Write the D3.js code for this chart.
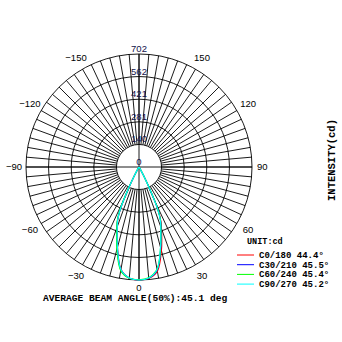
<!DOCTYPE html>
<html><head><meta charset="utf-8">
<script src="https://cdn.jsdelivr.net/npm/d3@7"></script>
<style>body{margin:0;background:#fff}svg{display:block}</style>
</head><body>
<svg id="c" width="342" height="342"></svg>
<script>
const ringTicks = [0, 140, 281, 421, 562, 702];
const angleTicks = [-150, -120, -90, -60, -30, 0, 30, 60, 90, 120, 150];
const angles = [0, 5, 10, 15, 18, 20, 22, 24, 26, 28, 30, 35, 40, 90];
const seriesNames = ["C0/180", "C30/210", "C60/240", "C90/270"];
const beamAngles = ["44.4°", "45.5°", "45.4°", "45.2°"];
const seriesColors = ["#ff0000", "#0000ff", "#00ff00", "#00ffff"];
const c0Right   = [702, 696, 658, 538, 458, 408, 362, 292, 162, 66, 20, 5, 0, 0];
const c0Left    = [702, 692, 645, 515, 438, 395, 352, 275, 150, 60, 20, 5, 0, 0];
const c30Right  = [702, 694, 650, 522, 444, 400, 357, 283, 158, 62, 20, 5, 0, 0];
const c30Left   = [702, 693, 648, 520, 442, 398, 356, 282, 156, 62, 20, 5, 0, 0];
const c60Right  = [700, 690, 645, 518, 440, 397, 356, 285, 160, 65, 22, 5, 0, 0];
const c60Left   = [700, 694, 654, 530, 450, 404, 361, 290, 164, 66, 22, 5, 0, 0];
const c90Right  = [702, 692, 646, 516, 438, 394, 352, 280, 155, 60, 20, 5, 0, 0];
const c90Left   = [702, 692, 647, 517, 439, 395, 353, 280, 155, 60, 20, 5, 0, 0];
const series = [[c0Right, c0Left], [c30Right, c30Left], [c60Right, c60Left], [c90Right, c90Left]];

const svg = d3.select("#c");
const cx = 139, cy = 167, R = 113;
const r = d3.scaleLinear().domain([0, 702]).range([0, R]);
const g = svg.append("g").attr("transform", `translate(${cx},${cy})`);
const rad = d => d * Math.PI / 180;

const spokes = d3.range(0, 360, 5);
g.selectAll("line.spoke").data(spokes).join("line")
  .attr("x1", d => r(ringTicks[1]) * Math.sin(rad(d)))
  .attr("y1", d => r(ringTicks[1]) * Math.cos(rad(d)))
  .attr("x2", d => R * Math.sin(rad(d)))
  .attr("y2", d => R * Math.cos(rad(d)))
  .attr("stroke", "#000").attr("stroke-width", 0.9);
g.append("line").attr("x1", -R).attr("x2", R).attr("y1", 0).attr("y2", 0).attr("stroke", "#000").attr("stroke-width", 0.9);
g.append("line").attr("x1", 0).attr("x2", 0).attr("y1", -R).attr("y2", R).attr("stroke", "#000").attr("stroke-width", 0.9);
g.selectAll("circle.ring").data(ringTicks.slice(1)).join("circle")
  .attr("r", d => r(d)).attr("fill", "none").attr("stroke", "#000").attr("stroke-width", 0.9);

const line = d3.lineRadial().curve(d3.curveCatmullRom.alpha(0.5))
  .angle(d => Math.PI - rad(d[0])).radius(d => r(d[1]));
series.forEach((s, i) => {
  const pts = [];
  for (let k = angles.length - 1; k >= 1; k--) pts.push([-angles[k], s[1][k]]);
  pts.push([0, (s[0][0] + s[1][0]) / 2]);
  for (let k = 1; k < angles.length; k++) pts.push([angles[k], s[0][k]]);
  g.append("path").attr("d", line(pts)).attr("fill", "none")
    .attr("stroke", seriesColors[i]).attr("stroke-width", 1.1);
});

g.selectAll("text.ring").data(ringTicks).join("text")
  .attr("x", 0).attr("y", d => -r(d) - 2)
  .attr("text-anchor", "middle")
  .attr("font-family", "Liberation Sans, Arial, sans-serif").attr("font-size", 9.5)
  .attr("fill", "#12124a")
  .text(d => d);

const LR = 126;
g.selectAll("text.ang").data(angleTicks).join("text")
  .attr("x", d => {
    const x = LR * Math.sin(rad(d));
    return d === -90 ? -R - 4 : d === 90 ? R + 5 : x;
  })
  .attr("y", d => d === 0 ? 121 : LR * Math.cos(rad(d)))
  .attr("dy", "0.35em")
  .attr("text-anchor", d => d === -90 ? "end" : d === 90 ? "start" : "middle")
  .attr("font-family", "Liberation Sans, Arial, sans-serif").attr("font-size", 9.5)
  .attr("fill", "#000")
  .text(d => d < 0 ? "\u2212" + Math.abs(d) : d);

const mono = "Liberation Mono, Courier New, monospace";
svg.append("text").attr("x", 247).attr("y", 244).attr("font-family", mono)
  .attr("font-weight", "bold").attr("font-size", 8.5).text("UNIT:cd");
const lg = svg.append("g");
seriesNames.forEach((n, i) => {
  const y = 255 + i * 9.7;
  lg.append("line").attr("x1", 237).attr("x2", 254).attr("y1", y).attr("y2", y)
    .attr("stroke", seriesColors[i]).attr("stroke-width", 1);
  lg.append("text").attr("x", 259).attr("y", y + 3).attr("font-family", mono)
    .attr("font-weight", "bold").attr("font-size", 9).text(n + " " + beamAngles[i]);
});
svg.append("text").attr("x", 43).attr("y", 301).attr("font-family", mono)
  .attr("font-weight", "bold").attr("font-size", 9.6).text("AVERAGE BEAM ANGLE(50%):45.1 deg");
svg.append("text").attr("transform", "translate(335,160) rotate(-90)")
  .attr("text-anchor", "middle").attr("font-family", mono)
  .attr("font-weight", "bold").attr("font-size", 10.5).text("INTENSITY(cd)");
</script>
</body></html>
